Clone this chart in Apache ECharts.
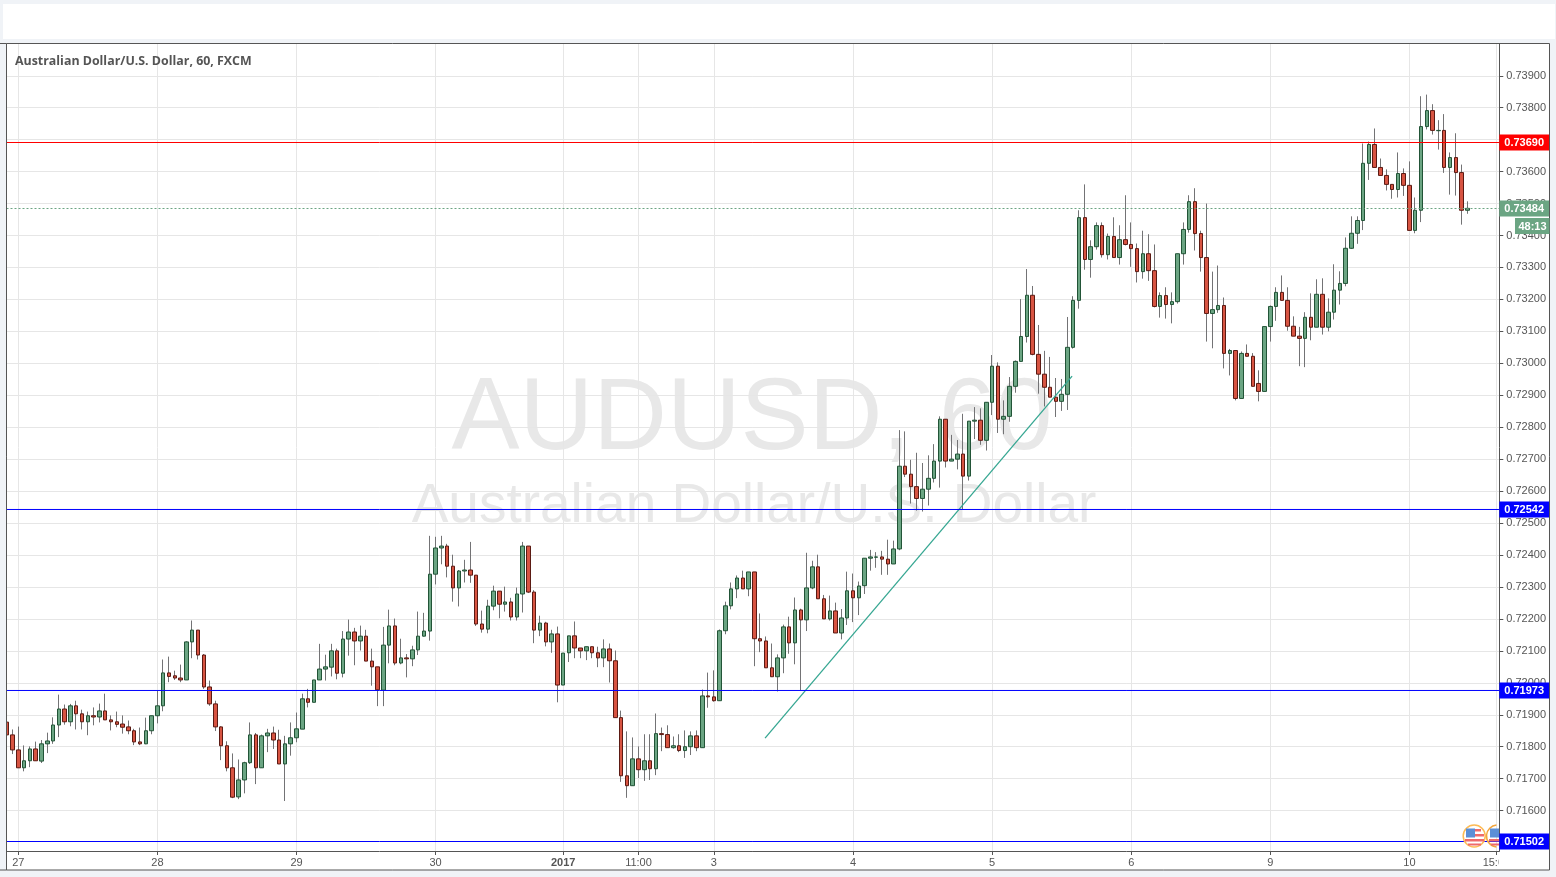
<!DOCTYPE html>
<html>
<head>
<meta charset="utf-8">
<title>AUDUSD, 60</title>
<script src="https://cdn.jsdelivr.net/npm/echarts@6/dist/echarts.min.js"></script>
<style>html,body{margin:0;padding:0;background:#f0f3f7}#c{width:1556px;height:877px}</style>
</head>
<body>
<div id="c"></div>
<script>
const opens = [
0.71877,0.71837,0.71790,0.71734,0.71756,0.71793,0.71755,0.71809,0.71818,0.71868,
0.71918,0.71878,0.71928,0.71903,0.71878,0.71897,0.71893,0.71912,0.71884,0.71878,
0.71871,0.71862,0.71850,0.71815,0.71809,0.71850,0.71897,0.71928,0.72031,0.72022,
0.72015,0.72009,0.72128,0.72165,0.72087,0.71987,0.71934,0.71862,0.71803,0.71734,
0.71643,0.71696,0.71750,0.71837,0.71734,0.71834,0.71843,0.71821,0.71746,0.71809,
0.71828,0.71855,0.71950,0.71939,0.72009,0.72043,0.72049,0.72100,0.72030,0.72137,
0.72159,0.72131,0.72146,0.72068,0.72050,0.71977,0.72118,0.72178,0.72062,0.72078,
0.72075,0.72103,0.72146,0.72162,0.72340,0.72422,0.72428,0.72365,0.72297,0.72350,
0.72353,0.72337,0.72184,0.72168,0.72240,0.72287,0.72246,0.72253,0.72206,0.72278,
0.72428,0.72284,0.72165,0.72187,0.72128,0.72153,0.71993,0.72094,0.72147,0.72109,
0.72100,0.72113,0.72094,0.72078,0.72106,0.72069,0.71891,0.71709,0.71678,0.71762,
0.71728,0.71756,0.71731,0.71841,0.71838,0.71797,0.71803,0.71788,0.71800,0.71834,
0.71797,0.71959,0.71956,0.71944,0.72163,0.72241,0.72294,0.72328,0.72294,0.72347,
0.72138,0.72131,0.72047,0.72019,0.72078,0.72175,0.72125,0.72228,0.72197,0.72297,
0.72363,0.72263,0.72200,0.72225,0.72156,0.72203,0.72288,0.72266,0.72304,0.72390,
0.72393,0.72394,0.72387,0.72372,0.72419,0.72678,0.72653,0.72614,0.72577,0.72606,
0.72640,0.72694,0.72825,0.72694,0.72700,0.72716,0.72647,0.72819,0.72822,0.72759,
0.72878,0.72991,0.72825,0.72834,0.72928,0.73006,0.73084,0.73213,0.73028,0.72966,
0.72925,0.72894,0.72881,0.72903,0.73050,0.73197,0.73456,0.73325,0.73365,0.73431,
0.73340,0.73397,0.73331,0.73387,0.73372,0.73359,0.73287,0.73343,0.73290,0.73178,
0.73212,0.73184,0.73193,0.73343,0.73419,0.73506,0.73406,0.73331,0.73156,0.73168,
0.73181,0.73031,0.73040,0.72890,0.73031,0.73022,0.72937,0.72912,0.73115,0.73178,
0.73222,0.73197,0.73116,0.73085,0.73078,0.73144,0.73113,0.73216,0.73113,0.73160,
0.73229,0.73250,0.73360,0.73407,0.73447,0.73626,0.73685,0.73613,0.73588,0.73560,
0.73544,0.73594,0.73557,0.73416,0.73479,0.73741,0.73791,0.73728,0.73729,0.73613,
0.73644,0.73597,0.73479];
const closes = [
0.71837,0.71790,0.71734,0.71756,0.71793,0.71756,0.71809,0.71818,0.71868,0.71918,
0.71878,0.71928,0.71903,0.71878,0.71897,0.71893,0.71912,0.71884,0.71878,0.71870,
0.71861,0.71850,0.71815,0.71809,0.71850,0.71897,0.71928,0.72031,0.72020,0.72015,
0.72009,0.72128,0.72165,0.72087,0.71987,0.71934,0.71862,0.71803,0.71734,0.71642,
0.71696,0.71750,0.71837,0.71734,0.71834,0.71843,0.71821,0.71746,0.71809,0.71828,
0.71856,0.71950,0.71939,0.72009,0.72043,0.72050,0.72100,0.72030,0.72137,0.72159,
0.72131,0.72146,0.72068,0.72050,0.71978,0.72118,0.72178,0.72062,0.72078,0.72075,
0.72103,0.72146,0.72162,0.72340,0.72422,0.72428,0.72365,0.72297,0.72350,0.72353,
0.72337,0.72184,0.72168,0.72240,0.72287,0.72246,0.72253,0.72206,0.72278,0.72428,
0.72284,0.72165,0.72187,0.72128,0.72153,0.71993,0.72093,0.72147,0.72109,0.72100,
0.72113,0.72094,0.72078,0.72106,0.72069,0.71891,0.71709,0.71678,0.71762,0.71728,
0.71756,0.71731,0.71841,0.71838,0.71797,0.71803,0.71788,0.71800,0.71834,0.71797,
0.71959,0.71956,0.71944,0.72163,0.72241,0.72294,0.72328,0.72294,0.72347,0.72138,
0.72131,0.72047,0.72019,0.72078,0.72175,0.72125,0.72228,0.72197,0.72297,0.72363,
0.72263,0.72200,0.72225,0.72156,0.72203,0.72288,0.72266,0.72303,0.72390,0.72394,
0.72394,0.72387,0.72372,0.72419,0.72678,0.72653,0.72614,0.72577,0.72606,0.72640,
0.72694,0.72825,0.72694,0.72700,0.72716,0.72647,0.72819,0.72822,0.72759,0.72878,
0.72991,0.72825,0.72834,0.72928,0.73006,0.73084,0.73213,0.73028,0.72966,0.72925,
0.72894,0.72881,0.72903,0.73050,0.73197,0.73456,0.73325,0.73365,0.73431,0.73340,
0.73397,0.73331,0.73387,0.73372,0.73359,0.73287,0.73343,0.73290,0.73178,0.73212,
0.73184,0.73193,0.73343,0.73419,0.73506,0.73406,0.73331,0.73156,0.73168,0.73181,
0.73031,0.73040,0.72890,0.73031,0.73022,0.72928,0.72912,0.73115,0.73178,0.73222,
0.73197,0.73116,0.73085,0.73078,0.73144,0.73113,0.73216,0.73113,0.73160,0.73229,
0.73250,0.73360,0.73407,0.73447,0.73626,0.73685,0.73613,0.73588,0.73560,0.73544,
0.73594,0.73557,0.73416,0.73479,0.73741,0.73791,0.73729,0.73729,0.73613,0.73644,
0.73597,0.73479,0.73485];
const lows = [
0.71837,0.71777,0.71734,0.71723,0.71736,0.71756,0.71749,0.71780,0.71809,0.71830,
0.71869,0.71864,0.71854,0.71854,0.71836,0.71867,0.71876,0.71884,0.71851,0.71861,
0.71841,0.71839,0.71805,0.71805,0.71808,0.71839,0.71873,0.71911,0.72002,0.72009,
0.72002,0.72009,0.72077,0.72073,0.71981,0.71928,0.71849,0.71758,0.71723,0.71639,
0.71636,0.71654,0.71746,0.71683,0.71734,0.71783,0.71793,0.71746,0.71630,0.71772,
0.71814,0.71855,0.71923,0.71939,0.72009,0.72007,0.72020,0.72011,0.72017,0.72085,
0.72055,0.72101,0.72068,0.71991,0.71927,0.71927,0.72061,0.72055,0.72058,0.72017,
0.72052,0.72087,0.72145,0.72132,0.72308,0.72371,0.72330,0.72254,0.72239,0.72314,
0.72313,0.72178,0.72157,0.72155,0.72227,0.72202,0.72223,0.72195,0.72195,0.72220,
0.72281,0.72124,0.72146,0.72114,0.72094,0.71939,0.71993,0.72065,0.72077,0.72077,
0.72071,0.72077,0.72049,0.72049,0.72001,0.71891,0.71690,0.71640,0.71678,0.71702,
0.71693,0.71696,0.71711,0.71786,0.71797,0.71794,0.71783,0.71765,0.71774,0.71786,
0.71797,0.71922,0.71941,0.71944,0.72152,0.72230,0.72265,0.72294,0.72271,0.72052,
0.72096,0.72047,0.72019,0.71973,0.72030,0.72091,0.72058,0.71975,0.72162,0.72293,
0.72263,0.72200,0.72195,0.72156,0.72136,0.72181,0.72190,0.72212,0.72278,0.72351,
0.72360,0.72338,0.72338,0.72372,0.72415,0.72644,0.72561,0.72539,0.72536,0.72555,
0.72627,0.72611,0.72674,0.72694,0.72668,0.72544,0.72633,0.72763,0.72745,0.72727,
0.72838,0.72782,0.72778,0.72817,0.72908,0.73006,0.73065,0.73025,0.72905,0.72865,
0.72894,0.72832,0.72851,0.72854,0.73046,0.73171,0.73293,0.73268,0.73356,0.73331,
0.73325,0.73331,0.73309,0.73369,0.73302,0.73253,0.73265,0.73258,0.73175,0.73143,
0.73140,0.73125,0.73187,0.73309,0.73409,0.73353,0.73287,0.73068,0.73047,0.73158,
0.72984,0.72962,0.72884,0.72890,0.73022,0.72928,0.72881,0.72912,0.73068,0.73133,
0.73197,0.73102,0.73085,0.72991,0.72988,0.73072,0.73113,0.73090,0.73100,0.73137,
0.73184,0.73241,0.73358,0.73374,0.73417,0.73574,0.73613,0.73588,0.73541,0.73515,
0.73519,0.73524,0.73416,0.73407,0.73442,0.73732,0.73716,0.73669,0.73596,0.73528,
0.73525,0.73434,0.73468];
const highs = [
0.71877,0.71854,0.71863,0.71804,0.71801,0.71816,0.71821,0.71844,0.71892,0.71963,
0.71932,0.71934,0.71944,0.71916,0.71910,0.71923,0.71935,0.71966,0.71898,0.71910,
0.71898,0.71882,0.71856,0.71860,0.71891,0.71897,0.71975,0.72073,0.72082,0.72038,
0.72057,0.72130,0.72195,0.72165,0.72090,0.72007,0.71944,0.71864,0.71817,0.71779,
0.71760,0.71753,0.71876,0.71843,0.71838,0.71856,0.71863,0.71853,0.71834,0.71876,
0.71907,0.71966,0.71981,0.72009,0.72122,0.72088,0.72122,0.72107,0.72162,0.72198,
0.72172,0.72179,0.72166,0.72107,0.72050,0.72175,0.72229,0.72201,0.72138,0.72090,
0.72116,0.72223,0.72219,0.72460,0.72457,0.72460,0.72435,0.72401,0.72353,0.72385,
0.72441,0.72337,0.72226,0.72260,0.72304,0.72287,0.72301,0.72266,0.72298,0.72441,
0.72428,0.72290,0.72210,0.72191,0.72166,0.72176,0.72093,0.72147,0.72192,0.72109,
0.72113,0.72113,0.72113,0.72136,0.72123,0.72101,0.71913,0.71848,0.71829,0.71801,
0.71839,0.71839,0.71904,0.71860,0.71867,0.71832,0.71839,0.71851,0.71848,0.71851,
0.71979,0.72032,0.72039,0.72167,0.72254,0.72314,0.72336,0.72351,0.72347,0.72347,
0.72217,0.72145,0.72123,0.72089,0.72182,0.72207,0.72267,0.72232,0.72407,0.72382,
0.72401,0.72275,0.72273,0.72251,0.72231,0.72348,0.72342,0.72317,0.72390,0.72416,
0.72409,0.72413,0.72448,0.72445,0.72791,0.72787,0.72698,0.72720,0.72688,0.72712,
0.72747,0.72834,0.72825,0.72776,0.72760,0.72842,0.72819,0.72863,0.72859,0.72878,
0.73026,0.73003,0.72884,0.72957,0.73009,0.73201,0.73295,0.73242,0.73120,0.73039,
0.73020,0.72954,0.72951,0.73145,0.73210,0.73479,0.73560,0.73385,0.73441,0.73441,
0.73406,0.73457,0.73432,0.73526,0.73441,0.73375,0.73415,0.73404,0.73372,0.73222,
0.73238,0.73222,0.73343,0.73441,0.73526,0.73548,0.73415,0.73500,0.73287,0.73306,
0.73206,0.73045,0.73040,0.73037,0.73059,0.73032,0.72978,0.73115,0.73181,0.73238,
0.73275,0.73238,0.73147,0.73114,0.73160,0.73219,0.73263,0.73266,0.73203,0.73310,
0.73288,0.73394,0.73460,0.73460,0.73688,0.73694,0.73735,0.73641,0.73607,0.73560,
0.73660,0.73610,0.73632,0.73519,0.73836,0.73841,0.73811,0.73761,0.73780,0.73660,
0.73720,0.73622,0.73507];
const timeTicks = [2,26,50,74,96,109,122,146,170,194,218,242,257];
const timeLabels = ['27','28','29','30','2017','11:00','3','4','5','6','9','10','15:00'];
const priceTicks = [0.716,0.717,0.718,0.719,0.72,0.721,0.722,0.723,0.724,0.725,0.726,0.727,0.728,0.729,0.73,0.731,0.732,0.733,0.734,0.735,0.736,0.737,0.738,0.739];
const levelTexts = ['0.73690','0.72542','0.71973','0.71502','0.73484'];
const levels = [0.736911,0.725425,0.71976,0.715033,0.734845];
const levelColors = ['#ff0000','#0000ff','#0000ff','#0000ff','#6ba583'];
const countdown = '48:13';
const trendBars = [130.83,183.8];
const trendPrices = [0.71827,0.7296];
const chartTitle = 'Australian Dollar/U.S. Dollar, 60, FXCM';
const watermark = ['AUDUSD, 60','Australian Dollar/U.S. Dollar'];
const barRange = [-0.03,257.5];
const priceRange = [0.714736,0.739994];

const wickData = opens.map((o,i)=>[i,o,closes[i],lows[i],highs[i]]);
const bodyData = opens.map((o,i)=>[i,o,closes[i],Math.min(o,closes[i]),Math.max(o,closes[i])]);
const green='#6ba583', red='#d75442', greenEdge='#225437', redEdge='#5b1a13', wick='#737375', textCol='#555555', gridCol='#e6e6e6';
const FONT='"Liberation Sans",Arial,sans-serif';

const tagLines = levels.map((v,i)=>({yAxis:v,label:{formatter:levelTexts[i],backgroundColor:levelColors[i]}}));

function levelSeries(v,color,type){
  return {type:'line',data:[[barRange[0],v],[barRange[1],v]],showSymbol:false,symbol:'none',silent:true,z:5,
    lineStyle:{color:color,width:1,type:type},itemStyle:{color:color},emphasis:{disabled:true}};
}
function flagStripes(pieces){return pieces.map(p=>({type:'rect',z:30,shape:{x:p[0],y:p[1],width:p[2],height:p[3]},style:{fill:p[4]}}));}

const chart = echarts.init(document.getElementById('c'),null,{renderer:'canvas'});
chart.setOption({
  animation:false,
  backgroundColor:'#f0f3f7',
  title:{text:chartTitle,left:15,top:55.5,padding:0,textStyle:{fontFamily:'"Open Sans",sans-serif',fontSize:12.4,fontWeight:700,color:textCol}},
  grid:{left:6.5,right:56.7,top:44,bottom:26,containLabel:false},
  xAxis:{
    type:'value',min:barRange[0],max:barRange[1],
    axisLine:{show:true,onZero:false,lineStyle:{color:textCol,width:1}},
    axisTick:{show:true,length:4,customValues:timeTicks,lineStyle:{color:textCol}},
    axisLabel:{
      customValues:timeTicks,margin:6,fontFamily:FONT,fontSize:11,color:textCol,hideOverlap:false,showMinLabel:true,showMaxLabel:true,
      formatter:v=>{const s=timeLabels[timeTicks.indexOf(v)]||'';return s==='2017'?'{b|2017}':s;},
      rich:{b:{fontWeight:'bold',fontFamily:FONT,fontSize:11,color:textCol}}
    },
    splitLine:{show:true,lineStyle:{color:gridCol,width:1}}
  },
  yAxis:{
    type:'value',position:'right',min:priceRange[0],max:priceRange[1],scale:true,
    axisLine:{show:true,onZero:false,lineStyle:{color:textCol,width:1}},
    axisTick:{show:true,length:4,customValues:priceTicks,lineStyle:{color:textCol}},
    axisLabel:{customValues:priceTicks,margin:7,padding:[3,0,0,0],fontFamily:FONT,fontSize:11,color:textCol,hideOverlap:false,formatter:v=>v.toFixed(5)},
    splitLine:{show:true,lineStyle:{color:gridCol,width:1}}
  },
  series:[
    {
      type:'candlestick',name:'wicks',data:wickData,encode:{x:0,y:[1,2,3,4]},barWidth:1,z:2,
      itemStyle:{color:wick,color0:wick,borderColor:wick,borderColor0:wick,borderWidth:1},
      markLine:{
        silent:true,symbol:'none',animation:false,precision:5,
        data:[[
          {coord:[trendBars[0],trendPrices[0]],lineStyle:{color:'#36a792',width:1.3,type:'solid'},label:{show:false}},
          {coord:[trendBars[1],trendPrices[1]]}
        ]]
      }
    },
    {
      type:'candlestick',name:'AUDUSD',data:bodyData,encode:{x:0,y:[1,2,3,4]},barWidth:4,z:3,
      itemStyle:{color:green,color0:red,borderColor:greenEdge,borderColor0:redEdge,borderWidth:1},
      markLine:{
        silent:true,symbol:'none',animation:false,z:6,precision:6,
        lineStyle:{color:'rgba(0,0,0,0)',width:0,type:'solid'},
        label:{show:true,position:'end',distance:0,color:'#fff',fontFamily:FONT,fontWeight:'bold',fontSize:11,padding:[3,5,2,5]},
        data:tagLines
      }
    }
  ].concat(levels.map((v,i)=>levelSeries(v,levelColors[i],i===4?[2,2]:'solid'))),
  graphic:{elements:[
    {type:'rect',z:-20,shape:{x:3,y:4,width:1552,height:35},style:{fill:'#ffffff'}},
    {type:'rect',z:-20,shape:{x:6.5,y:43.5,width:1543,height:826.5},style:{fill:'#ffffff',stroke:textCol,lineWidth:1}},
    {type:'text',z:-10,style:{x:752,y:421,text:watermark[0],align:'center',verticalAlign:'middle',fontFamily:FONT,fontSize:102,fill:'#e8e8e8'}},
    {type:'text',z:-10,style:{x:754,y:507,text:watermark[1],align:'center',verticalAlign:'middle',fontFamily:FONT,fontSize:55,fill:'#e8e8e8'}},
    {type:'rect',z:40,shape:{x:-3,y:43.5,width:9.5,height:826.5},style:{fill:'#f0f3f7',stroke:textCol,lineWidth:1}},
    {type:'rect',z:50,shape:{x:1498.8,y:852,width:50,height:17},style:{fill:'#ffffff'}},
    {type:'rect',z:60,shape:{x:1515,y:218,width:34.5,height:16},style:{fill:green}},
    {type:'text',z:61,style:{x:1532.5,y:226.5,text:countdown,align:'center',verticalAlign:'middle',fontFamily:FONT,fontWeight:'bold',fontSize:11,fill:'#fff'}},
    {type:'circle',z:29,shape:{cx:1474.2,cy:836,r:11},style:{fill:'#fff',stroke:'#fdbb55',lineWidth:1.5}},
    {type:'arc',z:29,shape:{cx:1497.5,cy:836,r:11,startAngle:Math.PI*0.53,endAngle:Math.PI*1.47,clockwise:true},style:{fill:'none',stroke:'#f2a53c',lineWidth:1.5}}
  ].concat(flagStripes([
    [1466,828.5,9,9,'#5b8fd6'],[1475,829,6,2.5,'#ef6a6a'],[1475,834,9,2.5,'#ef6a6a'],[1465,839,19,2.5,'#ef6a6a'],[1468,843.5,13,2,'#ef6a6a'],
    [1490,828.5,9,9,'#5b8fd6'],[1489,839,10,2.5,'#ef6a6a'],[1491,843.5,8,2,'#ef6a6a']
  ]))}
});
</script>
</body>
</html>
